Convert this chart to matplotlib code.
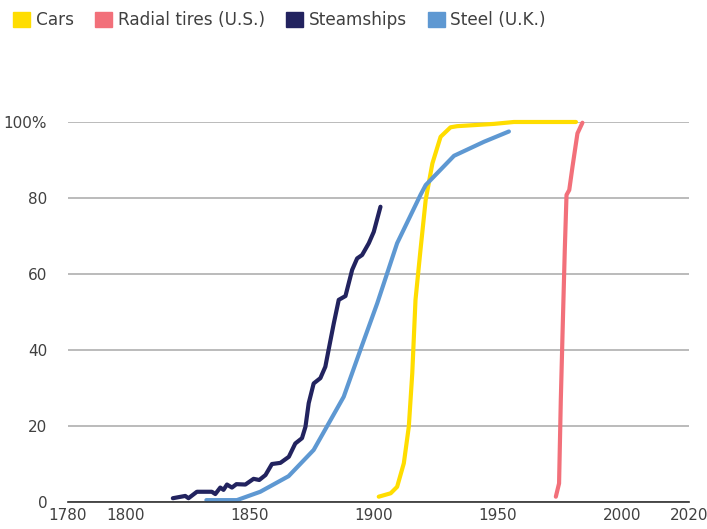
import matplotlib
matplotlib.use('Agg')
from matplotlib import pyplot as plt
from matplotlib.patches import Patch

plt.rcParams['font.family'] = ['DejaVu Sans']

# data (year, percent)
steam_years = [1819.2, 1824.2, 1825.5, 1828.9, 1834.9, 1836.3, 1838.3, 1839.6, 1841.0, 1843.0,
               1844.8, 1848.4, 1851.7, 1854.0, 1856.5, 1859.1, 1862.5, 1865.9, 1868.5, 1871.2,
               1872.6, 1873.9, 1875.9, 1878.6, 1880.6, 1881.9, 1884.0, 1886.0, 1888.7, 1891.4,
               1893.4, 1895.4, 1898.1, 1900.1, 1902.8]
steam_vals = [1.0, 1.6, 1.0, 2.7, 2.7, 2.1, 3.8, 3.2, 4.6, 3.8,
              4.7, 4.6, 6.1, 5.8, 7.1, 10.0, 10.3, 11.9, 15.4, 16.8,
              19.8, 26.0, 31.2, 32.6, 35.6, 40.0, 47.0, 53.2, 54.2, 61.1,
              64.1, 65.0, 68.1, 71.1, 77.7]

steel_years = [1832.7, 1845.0, 1854.4, 1865.8, 1875.9, 1888.0, 1894.7, 1901.5, 1909.5,
               1918.9, 1921.0, 1932.4, 1944.5, 1954.5]
steel_vals = [0.5, 0.5, 2.7, 6.8, 13.7, 27.7, 40.0, 52.3, 68.1,
              80.8, 83.4, 91.1, 94.8, 97.5]

cars_years = [1902.1, 1906.9, 1909.5, 1912.2, 1914.2, 1915.6, 1916.9, 1918.9, 1921.0,
              1923.7, 1927.0, 1931.0, 1933.7, 1948.5, 1956.5, 1981.5]
cars_vals = [1.4, 2.3, 4.0, 10.2, 19.8, 33.9, 53.2, 66.3, 79.5,
             89.1, 96.1, 98.6, 98.9, 99.5, 100.0, 100.0]

radial_years = [1973.4, 1974.7, 1975.4, 1976.1, 1977.0, 1977.7, 1978.8, 1980.1, 1982.1, 1984.1]
radial_vals = [1.4, 4.9, 26.8, 44.4, 66.3, 80.8, 82.1, 88.2, 97.0, 99.8]

labels = ['Cars', 'Radial tires (U.S.)', 'Steamships', 'Steel (U.K.)']
colors = ['#FFDD00', '#F2707A', '#22235F', '#5E98D2']

x_ticks = [1777, 1800, 1850, 1900, 1950, 2000, 2027]
x_labels = ['1780', '1800', '1850', '1900', '1950', '2000', '2020']
y_ticks = [0, 20, 40, 60, 80, 100]
y_labels = ['0', '20', '40', '60', '80', '100%']

fig = plt.figure(figsize=(7.07, 5.29), dpi=100)
ax = fig.add_axes([0.0962, 0.051, 0.8783, 0.7184])

series = [(cars_years, cars_vals), (radial_years, radial_vals),
          (steam_years, steam_vals), (steel_years, steel_vals)]
for (xs, ys), c in zip(series, colors):
    ax.plot(xs, ys, color=c, lw=3, solid_capstyle='round', clip_on=False, zorder=3)

ax.set_xlim(x_ticks[0], x_ticks[-1])
ax.set_ylim(0, 100)
ax.set_xticks(x_ticks)
ax.set_xticklabels(x_labels)
ax.set_yticks(y_ticks)
ax.set_yticklabels(y_labels)
ax.tick_params(length=0, labelsize=11, colors='#404040')
ax.tick_params(axis='y', pad=15)
ax.tick_params(axis='x', pad=4)
ax.yaxis.grid(True, color='#B5B5B5', lw=1.3)
ax.set_axisbelow(True)
for s in ['top', 'right', 'left']:
    ax.spines[s].set_visible(False)
ax.spines['bottom'].set_color('#303030')
ax.spines['bottom'].set_linewidth(1.2)
ax.spines['bottom'].set_zorder(4)

handles = [Patch(color=c, label=l) for c, l in zip(colors, labels)]
fig.legend(handles=handles, loc='upper left', bbox_to_anchor=(-0.003, 1.008), ncol=4,
           frameon=False, fontsize=12.2, handlelength=1.0, handleheight=1.0,
           handletextpad=0.33, columnspacing=1.26, labelcolor='#404040')

fig.savefig('out.png', dpi=100)
